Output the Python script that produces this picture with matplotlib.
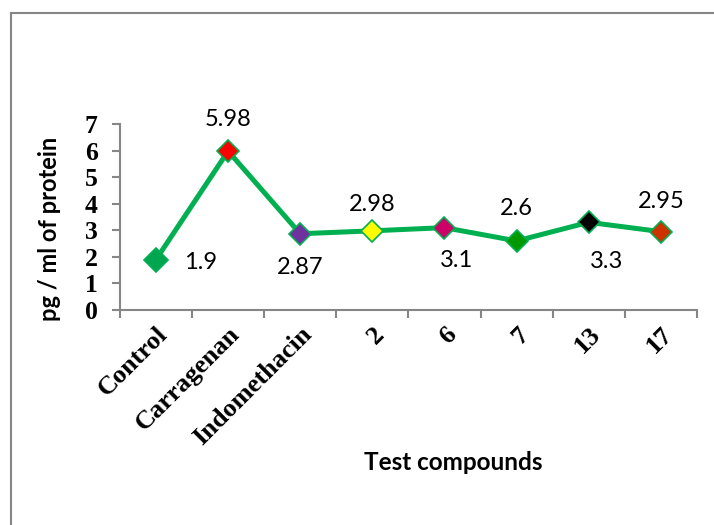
import matplotlib
matplotlib.use('Agg')
import matplotlib.pyplot as plt
from matplotlib.lines import Line2D
from matplotlib.transforms import ScaledTranslation
import numpy as np

# data
compounds = ['Control', 'Carragenan', 'Indomethacin', '2', '6', '7', '13', '17']
values = [1.9, 5.98, 2.87, 2.98, 3.1, 2.6, 3.3, 2.95]
marker_colors = ['#00A64F', '#FF0000', '#7030A0', '#FFFF00',
                 '#CC0066', '#009900', '#000000', '#CC3300']
# label offsets (points) for the data labels
label_offsets = [(32, -2), (0, 23), (0, -24), (0, 19), (9, -24), (0, 23), (13, -28), (0, 22)]

line_green = '#00B050'
spine_gray = '#868686'
serif = ['Liberation Serif', 'DejaVu Serif']
sans = ['Lato', 'DejaVu Sans']

fig = plt.figure(figsize=(7.14, 5.25), dpi=100)
ax = fig.add_axes([0.168, 0.4095, 0.808, 0.3543])

x = np.arange(len(compounds))
ax.plot(x, values, color=line_green, lw=3.6, zorder=2)
for xi, v, c in zip(x, values, marker_colors):
    size = 12.5 if xi == 0 else 11
    ax.plot(xi, v, marker='D', ms=size, mfc=c, mec=line_green, mew=1.2, zorder=3)

for xi, v, off in zip(x, values, label_offsets):
    ax.annotate(f'{v:g}', (xi, v), xytext=off, textcoords='offset points',
                ha='center', va='center', fontsize=17, family=sans)

# axes cosmetics
ax.set_xlim(-0.5, len(compounds) - 0.5)
ax.set_ylim(0, 7)
ax.set_yticks(range(0, 8))
ax.set_yticklabels([str(i) for i in range(0, 8)], family=serif,
                   fontweight='bold', fontsize=18.5)
ax.set_xticks(x)
ax.set_xticklabels(compounds, rotation=45, ha='right', rotation_mode='anchor',
                   family=serif, fontweight='bold', fontsize=19)
shift = ScaledTranslation(-5 / 72, 0, fig.dpi_scale_trans)
for lab in ax.get_xticklabels():
    lab.set_transform(lab.get_transform() + shift)
ax.set_xticks(np.arange(-0.5, len(compounds)), minor=True)
ax.tick_params(axis='x', which='major', length=0, pad=9)
ax.tick_params(axis='x', which='minor', length=6, width=1.5, color=spine_gray)
ax.tick_params(axis='y', length=6, width=1.5, color=spine_gray, pad=10)
for s in ['top', 'right']:
    ax.spines[s].set_visible(False)
for s in ['left', 'bottom']:
    ax.spines[s].set_color(spine_gray)
    ax.spines[s].set_linewidth(1.5)

fig.text(50 / 714, 1 - 229 / 525, 'pg / ml of protein', rotation=90,
         ha='center', va='center', fontsize=17, fontweight='bold', family=sans)
fig.text(453 / 714, 1 - 463 / 525, 'Test compounds',
         ha='center', va='center', fontsize=17.5, fontweight='bold', family=sans)

# frame around the chart (left and top visible)
fig.add_artist(Line2D([11 / 714, 11 / 714], [0, 1 - 12.5 / 525],
                      color=spine_gray, lw=1.5, transform=fig.transFigure))
fig.add_artist(Line2D([11 / 714, 1], [1 - 12.5 / 525, 1 - 12.5 / 525],
                      color=spine_gray, lw=1.5, transform=fig.transFigure))

fig.savefig('out.png', dpi=100)
